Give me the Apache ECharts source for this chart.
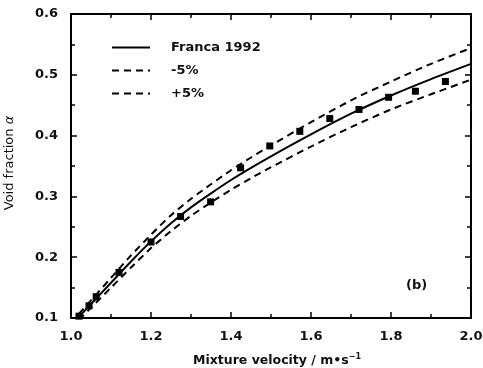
<!DOCTYPE html>
<html><head><meta charset="utf-8">
<script src="https://cdn.jsdelivr.net/npm/echarts@6/dist/echarts.min.js"></script>
<style>html,body{margin:0;padding:0;background:#fff}#c{width:483px;height:368px}</style>
</head><body><div id="c"></div>
<script>
// Curve sample positions (mixture velocity, m/s)
const curveX = [1.02, 1.05, 1.1, 1.15, 1.2, 1.25, 1.3, 1.35, 1.4, 1.45, 1.5, 1.6, 1.7, 1.8, 1.9, 2.0];
// Franca 1992 correlation
const franca = [0.102, 0.123, 0.158, 0.193, 0.226, 0.256, 0.282, 0.305, 0.327, 0.347, 0.366, 0.402, 0.436, 0.466, 0.493, 0.518];
// -5% band
const minus5 = [0.097, 0.117, 0.150, 0.183, 0.215, 0.243, 0.268, 0.290, 0.311, 0.330, 0.348, 0.382, 0.414, 0.443, 0.468, 0.492];
// +5% band
const plus5 = [0.107, 0.129, 0.166, 0.203, 0.237, 0.269, 0.296, 0.320, 0.343, 0.364, 0.384, 0.422, 0.458, 0.489, 0.518, 0.544];
// Experimental points
const expX = [1.02, 1.045, 1.063, 1.12, 1.2, 1.274, 1.349, 1.424, 1.497, 1.572, 1.647, 1.72, 1.794, 1.861, 1.936];
const expY = [0.103, 0.120, 0.135, 0.175, 0.225, 0.267, 0.291, 0.347, 0.383, 0.407, 0.428, 0.443, 0.463, 0.473, 0.489];

const FONT = "'DejaVu Sans', sans-serif";
const zip = (a, b) => a.map((v, i) => [v, b[i]]);

const chart = echarts.init(document.getElementById('c'), null, {renderer: 'canvas'});

const axisLine = {show: true, lineStyle: {color: '#000', width: 2}};
const tick = {show: true, inside: true, length: 6, lineStyle: {color: '#000', width: 1.5}};
const minor = {show: true, splitNumber: 2, length: 4, lineStyle: {color: '#000', width: 1.5}};
const label = {color: '#111', fontFamily: FONT, fontWeight: 'bold', fontSize: 13};

const option = {
  backgroundColor: '#fff',
  animation: false,
  grid: {left: 71, right: 12, top: 14, bottom: 50, containLabel: false, outerBoundsMode: 'none'},
  xAxis: [
    {type: 'value', min: 1.0, max: 2.0, interval: 0.2, position: 'bottom',
     axisLine, axisTick: tick, minorTick: minor, splitLine: {show: false},
     axisLabel: Object.assign({margin: 12, formatter: v => v.toFixed(1)}, label),
     name: 'Mixture velocity / m•s{sup|−1}', nameLocation: 'middle', nameGap: 35,
     nameTextStyle: {color: '#111', fontFamily: FONT, fontWeight: 'bold', fontSize: 12.5, padding: [0, 0, 0, 12],
       rich: {sup: {fontSize: 8, fontWeight: 'bold', fontFamily: FONT, color: '#111', verticalAlign: 'top', padding: [0, 0, 8, 0]}}}},
    {type: 'value', min: 1.0, max: 2.0, interval: 0.2, position: 'top',
     axisLine, axisTick: tick, minorTick: minor, splitLine: {show: false}, axisLabel: {show: false}}
  ],
  yAxis: [
    {type: 'value', min: 0.1, max: 0.6, interval: 0.1, position: 'left',
     axisLine, axisTick: tick, minorTick: minor, splitLine: {show: false},
     axisLabel: Object.assign({margin: 13, formatter: v => v.toFixed(1)}, label),
     name: 'Void fraction {i|α}', nameLocation: 'middle', nameGap: 55,
     nameTextStyle: {color: '#111', fontFamily: FONT, fontSize: 13, padding: [0, 0, 0, 6],
       rich: {i: {fontStyle: 'italic', fontFamily: FONT, fontSize: 13, color: '#111'}}}},
    {type: 'value', min: 0.1, max: 0.6, interval: 0.1, position: 'right',
     axisLine, axisTick: tick, minorTick: minor, splitLine: {show: false}, axisLabel: {show: false}}
  ],
  legend: {
    data: ['Franca 1992', '-5%', '+5%'],
    orient: 'vertical', left: 106, top: 36,
    itemWidth: 38, itemHeight: 12, itemGap: 10,
    itemStyle: {opacity: 0},
    textStyle: {color: '#111', fontFamily: FONT, fontWeight: 'bold', fontSize: 13, padding: [0, 0, 0, 16]},
    selectedMode: false
  },
  graphic: [
    {type: 'text', left: 406, top: 279, style: {text: '(b)', fill: '#111', font: 'bold 13px ' + FONT}}
  ],
  series: [
    {name: 'Franca 1992', type: 'line', data: zip(curveX, franca), smooth: 0.25, symbol: 'none',
     lineStyle: {color: '#000', width: 2}, itemStyle: {color: '#000'}, z: 3},
    {name: '-5%', type: 'line', data: zip(curveX, minus5), smooth: 0.25, symbol: 'none',
     lineStyle: {color: '#000', width: 2, type: [7, 5]}, itemStyle: {color: '#000'}, z: 2},
    {name: '+5%', type: 'line', data: zip(curveX, plus5), smooth: 0.25, symbol: 'none',
     lineStyle: {color: '#000', width: 2, type: [7, 5]}, itemStyle: {color: '#000'}, z: 2},
    {name: 'Experiment', type: 'scatter', data: zip(expX, expY), symbol: 'rect', symbolSize: 7,
     itemStyle: {color: '#000', opacity: 1}, z: 4}
  ]
};
chart.setOption(option);
</script></body></html>
